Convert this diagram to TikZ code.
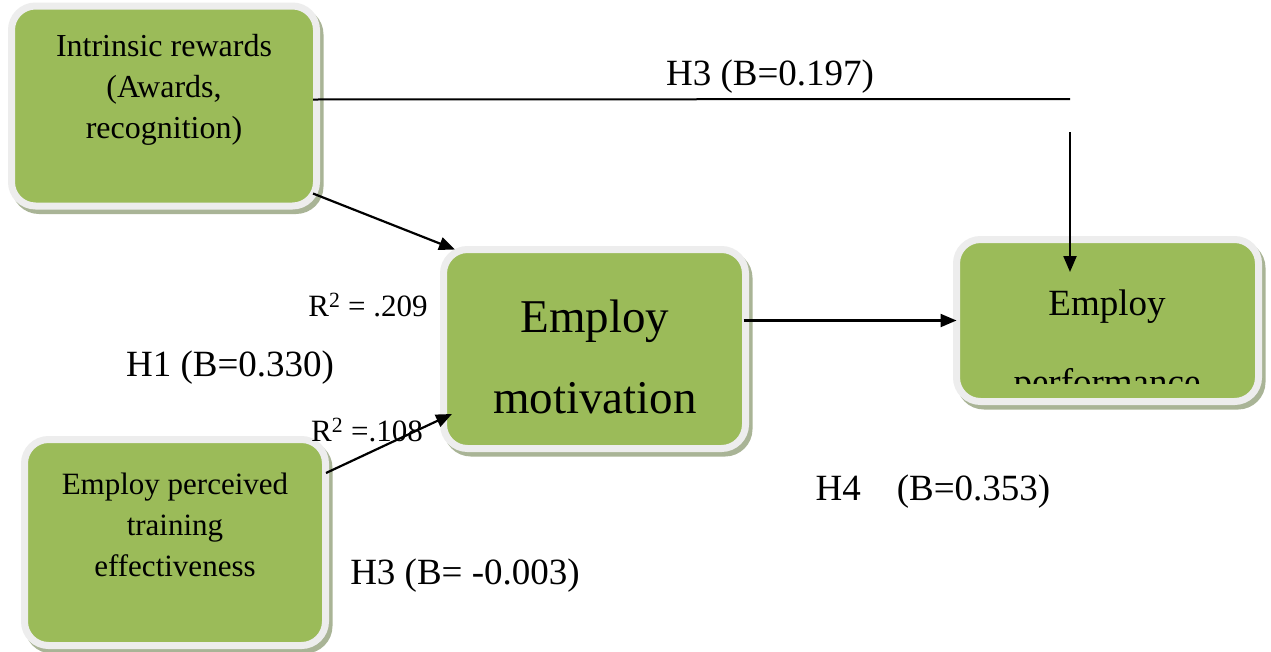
\documentclass[tikz,border=0pt]{standalone}
\usepackage{fontspec}
\setmainfont{Liberation Serif}
\usetikzlibrary{arrows.meta}
\definecolor{boxgreen}{HTML}{9BBB59}
\definecolor{framec}{HTML}{EDEDED}
\definecolor{shadowc}{HTML}{A9B496}
\begin{document}
\begin{tikzpicture}[x=1pt,y=-1pt,
  box/.style={rounded corners=24pt, fill=boxgreen, draw=framec, line width=7pt, outer sep=0pt, inner sep=0pt,
    preaction={draw=shadowc, fill=shadowc, line width=7pt, transform canvas={shift={(3.5pt,-4.5pt)}}}},
  boxtext/.style={align=center, inner sep=0pt, font=\fontsize{32}{41}\selectfont},
  lab/.style={inner sep=0pt, font=\fontsize{37}{44}\selectfont},
  rlab/.style={inner sep=0pt, font=\fontsize{31}{36}\selectfont},
  arr/.style={line width=2.2pt, -{Triangle[length=16pt,width=13pt]}},
  plain/.style={line width=2pt}]
\useasboundingbox (0,0) rectangle (1271,651);
\fill[white] (0,0) rectangle (1271,651);

% boxes
\node[box, minimum width=305pt, minimum height=200pt] (b1) at (164,106) {};
\node[box, minimum width=302pt, minimum height=199pt] (b2) at (594.5,349) {};
\node[box, minimum width=302pt, minimum height=162pt] (b3) at (1107.5,320.5) {};
\node[box, minimum width=301pt, minimum height=206pt] (b4) at (175,542.5) {};

% box texts
\node[boxtext] (t1) at (164,90) {Intrinsic rewards\\(Awards,\\recognition)};
\node[boxtext, font=\fontsize{31}{41}\selectfont] (t4) at (175,525) {Employ perceived\\training\\effectiveness};
\node[boxtext, font=\fontsize{47}{81}\selectfont] (t2) at (595,357) {Employ\\motivation};
\begin{scope}
  \clip (940,230) rectangle (1270,383);
  \node[boxtext, font=\fontsize{37}{79}\selectfont, anchor=base] (t3) at (1107,394) {Employ\\performance};
\end{scope}

% connectors
\coordinate (c1) at (1070,99);
\coordinate (c2) at (1070,132);
\draw[plain] ([shift={(-3.5,-6.5)}]b1.east) -- (c1);
\draw[arr] (c2) -- ([shift={(-37.5,32.5)}]b3.north);
\draw[arr] ([shift={(-3.5,-12.5)}]b1.south east) -- ([shift={(11.5,0)}]b2.north west);
\draw[arr] ([shift={(0.5,33.5)}]b4.north east) -- ([shift={(8.5,-34.5)}]b2.south west);
\draw[arr] ([shift={(-2,-28.5)}]b2.east) -- (b3.west);

% labels
\node[lab] (l1) at (770,77) {H3 (B=0.197)};
\node[rlab] (l2) at (368,305) {R\textsuperscript{2} = .209};
\node[lab] (l3) at (230,368) {H1 (B=0.330)};
\node[rlab] (l4) at (367,430) {R\textsuperscript{2} =.108};
\node[lab] (l5) at (933,492) {H4\hspace{36pt}(B=0.353)};
\node[lab] (l6) at (465,576) {H3 (B= -0.003)};
\end{tikzpicture}
\end{document}
